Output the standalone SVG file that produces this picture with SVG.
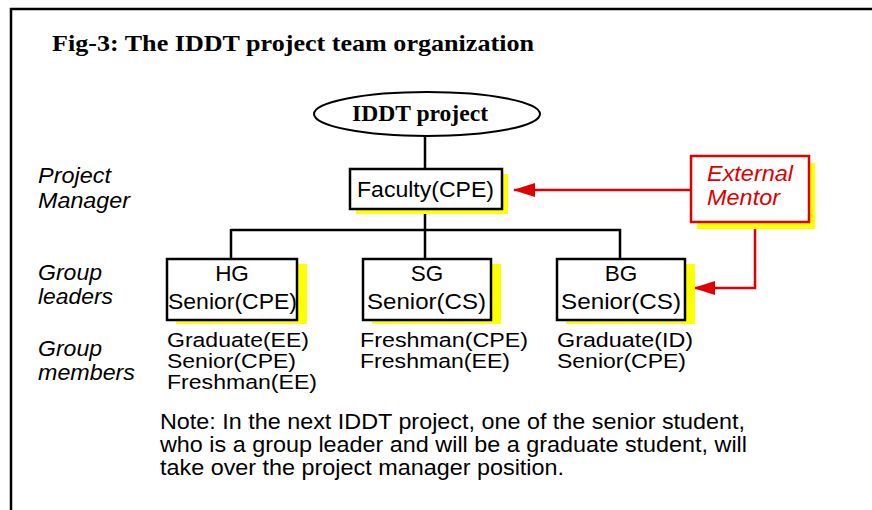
<svg xmlns="http://www.w3.org/2000/svg" width="872" height="510" viewBox="0 0 872 510">
<style>
.t{font-family:"Liberation Sans",Arial,sans-serif;font-size:22.5px;fill:#000}
.m{font-family:"Liberation Sans",Arial,sans-serif;font-size:20.5px;fill:#000}
.i{font-family:"Liberation Sans",Arial,sans-serif;font-size:22.5px;font-style:italic;fill:#000}
.r{font-family:"Liberation Sans",Arial,sans-serif;font-size:22.5px;font-style:italic;fill:#e00000}
.s{font-family:"Liberation Serif","Times New Roman",serif;font-weight:bold;fill:#000}
.n{font-family:"Liberation Sans",Arial,sans-serif;font-size:21.5px;fill:#000}
.box{fill:#fff;stroke:#000;stroke-width:2.5}
.sh{fill:#ffff00}
.ln{stroke:#000;stroke-width:2.5;fill:none}
.rl{stroke:#e00000;stroke-width:2.5;fill:none}
</style>
<defs>
<marker id="ra" markerWidth="22" markerHeight="14" refX="21" refY="7" orient="auto" markerUnits="userSpaceOnUse">
<path d="M0,0 L22,7 L0,14 Z" fill="#e00000"/>
</marker>
</defs>
<g id="frame">
<path d="M10,9 H872 M11,8 V510" stroke="#000" stroke-width="2.5" fill="none"/>
</g>
<text class="s" x="52" y="51" font-size="24" textLength="482" lengthAdjust="spacingAndGlyphs">Fig-3: The IDDT project team organization</text>
<g id="labels">
<text class="i" x="38" y="183" textLength="73" lengthAdjust="spacingAndGlyphs">Project</text>
<text class="i" x="38" y="208" textLength="92" lengthAdjust="spacingAndGlyphs">Manager</text>
<text class="i" x="38" y="280" textLength="64" lengthAdjust="spacingAndGlyphs">Group</text>
<text class="i" x="38" y="304" textLength="75" lengthAdjust="spacingAndGlyphs">leaders</text>
<text class="i" x="38" y="356" textLength="64" lengthAdjust="spacingAndGlyphs">Group</text>
<text class="i" x="38" y="380" textLength="97" lengthAdjust="spacingAndGlyphs">members</text>
</g>
<g id="connectors">
<path class="ln" d="M425,136 V169 M425,209 V230 M231,230 H621 M231,229 V259 M425,230 V259 M620,229 V259"/>
<path class="rl" d="M691,190 H514" marker-end="url(#ra)"/>
<path class="rl" d="M755,222 V288 H694" marker-end="url(#ra)"/>
</g>
<g id="iddt">
<ellipse cx="427" cy="114" rx="113" ry="22" fill="#fff" stroke="#000" stroke-width="2"/>
<text class="s" x="352" y="121" font-size="24" textLength="136" lengthAdjust="spacingAndGlyphs">IDDT project</text>
</g>
<g id="faculty">
<rect class="sh" x="356" y="174" width="152" height="40"/>
<rect class="box" x="350" y="169" width="152" height="40"/>
<text class="t" x="357" y="197" textLength="137" lengthAdjust="spacingAndGlyphs">Faculty(CPE)</text>
</g>
<g id="mentor">
<rect class="sh" x="697" y="163" width="118" height="66"/>
<rect x="691" y="156" width="118" height="66" fill="#fff" stroke="#e00000" stroke-width="2.5"/>
<text class="r" x="707" y="181" textLength="86" lengthAdjust="spacingAndGlyphs">External</text>
<text class="r" x="707" y="205" textLength="73" lengthAdjust="spacingAndGlyphs">Mentor</text>
</g>
<g id="hg">
<rect class="sh" x="176" y="264" width="131" height="60"/>
<rect class="box" x="167" y="259" width="130" height="61"/>
<text class="t" x="232" y="281" text-anchor="middle">HG</text>
<text class="t" x="168" y="309" textLength="129" lengthAdjust="spacingAndGlyphs">Senior(CPE)</text>
</g>
<g id="sg">
<rect class="sh" x="372" y="264" width="129" height="60"/>
<rect class="box" x="363" y="259" width="128" height="61"/>
<text class="t" x="427" y="281" text-anchor="middle">SG</text>
<text class="t" x="367" y="309" textLength="119" lengthAdjust="spacingAndGlyphs">Senior(CS)</text>
</g>
<g id="bg">
<rect class="sh" x="566" y="264" width="129" height="60"/>
<rect class="box" x="557" y="259" width="128" height="61"/>
<text class="t" x="621" y="281" text-anchor="middle">BG</text>
<text class="t" x="561" y="309" textLength="120" lengthAdjust="spacingAndGlyphs">Senior(CS)</text>
</g>
<g id="members">
<text class="m" x="167" y="347" textLength="142" lengthAdjust="spacingAndGlyphs">Graduate(EE)</text>
<text class="m" x="167" y="368" textLength="129" lengthAdjust="spacingAndGlyphs">Senior(CPE)</text>
<text class="m" x="167" y="389" textLength="150" lengthAdjust="spacingAndGlyphs">Freshman(EE)</text>
<text class="m" x="360" y="347" textLength="168" lengthAdjust="spacingAndGlyphs">Freshman(CPE)</text>
<text class="m" x="360" y="368" textLength="150" lengthAdjust="spacingAndGlyphs">Freshman(EE)</text>
<text class="m" x="557" y="347" textLength="136" lengthAdjust="spacingAndGlyphs">Graduate(ID)</text>
<text class="m" x="557" y="368" textLength="129" lengthAdjust="spacingAndGlyphs">Senior(CPE)</text>
</g>
<g id="note">
<text class="n" x="160" y="429" textLength="585" lengthAdjust="spacingAndGlyphs">Note: In the next IDDT project, one of the senior student,</text>
<text class="n" x="160" y="452" textLength="587" lengthAdjust="spacingAndGlyphs">who is a group leader and will be a graduate student, will</text>
<text class="n" x="160" y="475" textLength="404" lengthAdjust="spacingAndGlyphs">take over the project manager position.</text>
</g>
</svg>
